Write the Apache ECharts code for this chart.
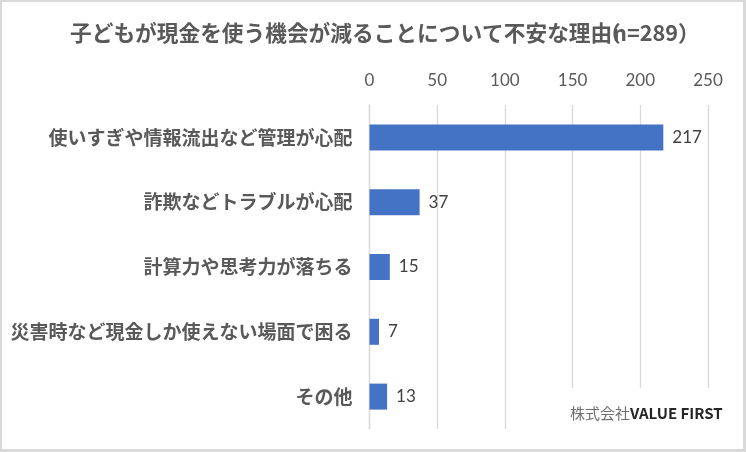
<!DOCTYPE html>
<html>
<head>
<meta charset="utf-8">
<script src="https://cdn.jsdelivr.net/npm/echarts@6/dist/echarts.min.js"></script>
<style>
html,body{margin:0;padding:0;background:#fff;}
#chart{width:746px;height:452px;}
</style>
</head>
<body>
<div id="chart"></div>
<script>
var titleMain = '子どもが現金を使う機会が減ることについて不安な理由';
var titleOpen = '（';
var titleN = 'n=289）';
var categories = ['使いすぎや情報流出など管理が心配','詐欺などトラブルが心配','計算力や思考力が落ちる','災害時など現金しか使えない場面で困る','その他'];
var values = [217, 37, 15, 7, 13];
var axisMin = 0, axisMax = 250, axisStep = 50;
var creditJa = '株式会社';
var creditEn = 'VALUE FIRST';

var chart = echarts.init(document.getElementById('chart'), null, {renderer:'canvas'});
var cjk = '"Noto Sans CJK JP", "Noto Sans", sans-serif';
var num = 'Lato, "Noto Sans", sans-serif';
chart.setOption({
  animation:false,
  backgroundColor:'#ffffff',
  grid:{left:369.5, right:38, top:105, bottom:23, containLabel:false},
  xAxis:{
    type:'value', position:'top', min:axisMin, max:axisMax, interval:axisStep,
    axisLine:{show:false}, axisTick:{show:false},
    axisLabel:{color:'#595959', fontSize:17, fontFamily:num, margin:16},
    splitLine:{show:true, lineStyle:{color:'#d9d9d9', width:1.3}}
  },
  yAxis:{
    type:'category', data:categories, inverse:true,
    axisLine:{show:true, lineStyle:{color:'#d9d9d9', width:1.3}},
    axisTick:{show:false},
    axisLabel:{color:'#595959', fontSize:19, fontFamily:cjk, fontWeight:'bold', margin:17}
  },
  series:[{
    type:'bar', data:values, barWidth:26,
    itemStyle:{color:'#4472C4'},
    label:{show:true, position:'right', distance:9, color:'#404040', fontSize:17, fontFamily:num}
  }],
  graphic:[
    {type:'rect', z:100, shape:{x:0,y:0,width:746,height:2}, style:{fill:'#d9d9d9'}},
    {type:'rect', z:100, shape:{x:0,y:0,width:2,height:452}, style:{fill:'#d9d9d9'}},
    {type:'rect', z:100, shape:{x:743,y:0,width:3,height:452}, style:{fill:'#d9d9d9'}},
    {type:'rect', z:100, shape:{x:0,y:449,width:746,height:3}, style:{fill:'#d9d9d9'}},
    {type:'rect', z:50, shape:{x:560,y:388,width:183,height:55}, style:{fill:'#ffffff'}},
    {type:'text', z:60, x:570, y:413, style:{
      text:'{ja|' + creditJa + '}{en|' + creditEn + '}', textVerticalAlign:'middle',
      rich:{
        ja:{fill:'#6f6f6f', fontSize:15, fontFamily:'"Noto Sans CJK JP", sans-serif', fontWeight:'normal'},
        en:{fill:'#262626', fontSize:15, fontFamily:'"Noto Sans CJK JP", sans-serif', fontWeight:'bold'}
      }
    }},
    {type:'text', z:60, x:70, y:33, style:{text:titleMain, fill:'#595959', font:'bold 21.7px "Noto Sans CJK JP", sans-serif', textVerticalAlign:'middle'}},
    {type:'text', z:60, x:599, y:33, style:{text:titleOpen, fill:'#595959', font:'bold 21.7px "Noto Sans CJK JP", sans-serif', textVerticalAlign:'middle'}},
    {type:'text', z:60, x:613, y:33, style:{text:titleN, fill:'#595959', font:'bold 21.7px "Noto Sans CJK JP", sans-serif', textVerticalAlign:'middle'}}
  ]
});
</script>
</body>
</html>
